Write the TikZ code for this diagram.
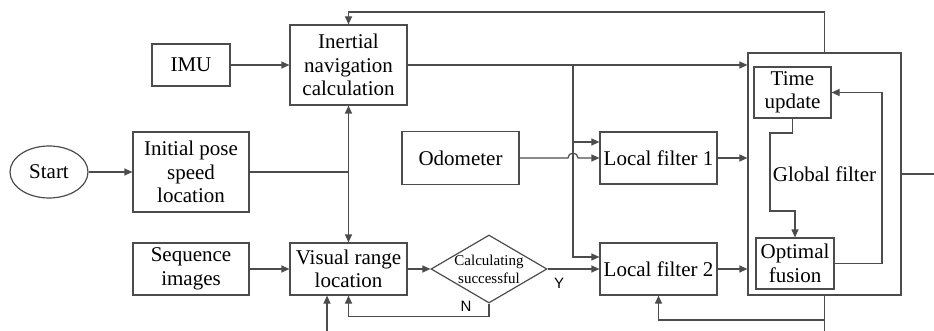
\documentclass[tikz,border=0pt]{standalone}
\usepackage{fontspec}
\setmainfont{Liberation Serif}
\newfontfamily\blkfont{Liberation Serif}
\newfontfamily\ynfont{Liberation Sans}
\usetikzlibrary{shapes.geometric,arrows.meta}
\begin{document}
\begin{tikzpicture}[x=1pt,y=-1pt,line width=1.2pt,color=black!70,
    >={Triangle[length=8pt,width=7pt]},
    every node/.append style={text=black},
    blk/.style={draw,align=center,font=\blkfont\fontsize{21}{23.5}\selectfont,
      minimum width=117pt,minimum height=52pt,inner sep=2pt},
    ov/.style={draw,ellipse,font=\blkfont\fontsize{21}{23.5}\selectfont,
      minimum width=78pt,minimum height=52pt,inner sep=0pt},
    dec/.style={draw,diamond,minimum width=116pt,minimum height=68pt,inner sep=0pt},
    dectxt/.style={align=center,font=\blkfont\fontsize{15}{18}\selectfont,inner sep=0pt},
    yn/.style={font=\ynfont\fontsize{15}{16}\selectfont,inner sep=0pt}]
  \useasboundingbox (0,0) rectangle (934,331);
  % blocks
  \node[ov] (start) at (49,172) {Start};
  \node[blk,minimum width=78pt,minimum height=42pt] (imu) at (191,65) {IMU};
  \node[blk,minimum height=80pt] (ins) at (348.5,65) {Inertial\\navigation\\calculation};
  \node[blk,minimum width=116pt,minimum height=80pt] (init) at (191,172) {Initial pose\\speed\\location};
  \node[blk,minimum width=116pt] (seq) at (191,269) {Sequence\\images};
  \node[blk] (vis) at (348.5,269) {Visual range\\location};
  \node[dec] (chk) at (489,269) {};
  \node[dectxt] (chktxt) at (chk) {Calculating\\successful};
  \node[blk,minimum height=53pt] (odo) at (460.5,158) {Odometer};
  \node[blk] (lf1) at (658.5,158) {Local filter 1};
  \node[blk] (lf2) at (658.5,269) {Local filter 2};
  \node[blk,minimum width=153pt,minimum height=242pt] (glob) at (824.5,174) {Global filter};
  \node[blk,minimum width=77pt,minimum height=51pt] (tu) at (792.5,92.5) {Time\\update};
  \node[blk,minimum width=78pt,minimum height=51pt] (of) at (795,263.5) {Optimal\\fusion};
  \node[yn] (yes) at (559,283) {Y};
  \node[yn] (no) at (466,306) {N};
  % connectors
  \draw[->] (imu) -- (ins);
  \draw[->] (start) -- (init);
  \draw (init.east) -- (ins.south |- init.east) coordinate (j1);
  \foreach \t in {ins.south,vis.north}
    \draw[->] (j1) -- (\t);
  \draw[->] (seq) -- (vis);
  \draw[->] (vis) -- (chk);
  \draw[->] (chk) -- (lf2);
  \draw[->] (chk.south) -- ++(0,13) -| (vis.south);
  \coordinate (vin) at (327,331);
  \draw[->] (vin) -- (vin |- vis.south);
  \coordinate (top) at (824.5,12);
  \draw[->] (glob.north) -- (top) -| (ins.north);
  \draw[->] (ins.east) -- (ins.east -| glob.west);
  \coordinate (j2) at (573,65);
  \draw[->] (j2) |- (lf2.west |- 0,257);
  \draw[->] (j2 |- 0,142) -- (lf1.west |- 0,142);
  \draw[->] (odo.east) -- (568,158) arc[start angle=180,end angle=0,radius=5pt] -- (lf1.west);
  \foreach \f in {lf1,lf2}
    \draw[->] (\f.east) -- (\f.east -| glob.west);
  \draw[->] (tu.south) |- (770,133) -- (770,211) -| (of.north);
  \draw[->] (of.east) -| (882,92.5) -- (tu.east);
  \coordinate (gout) at (934,174);
  \draw (glob.east) -- (gout);
  \coordinate (gbot) at (824.5,331);
  \draw (glob.south) -- (gbot);
  \draw[->] (glob.south |- 0,320) -| (lf2.south);
\end{tikzpicture}
\end{document}
